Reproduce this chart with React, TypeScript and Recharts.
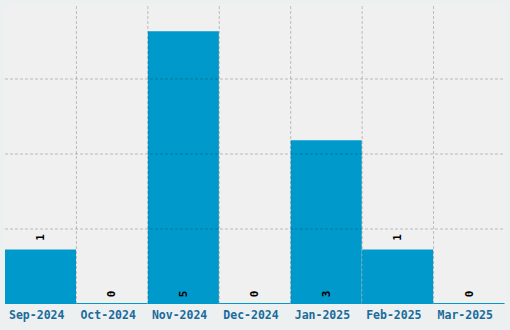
import React from 'react';
import { BarChart, Bar, XAxis, YAxis, CartesianGrid, LabelList, ReferenceLine } from 'recharts';

const months = ['Sep-2024', 'Oct-2024', 'Nov-2024', 'Dec-2024', 'Jan-2025', 'Feb-2025', 'Mar-2025'];
const counts = [1, 0, 5, 0, 3, 1, 0];
const yMax = 5.5;
const yTicks = [1.375, 2.75, 4.125];
const columnEdges = [1, 2, 3, 4, 5, 6];

// slot = column centre on a 0..7 number axis, used only to place the column-edge grid lines
const data = months.map((month, i) => ({ month, count: counts[i], slot: i + 0.5 }));

const FONT = '"DejaVu Sans Mono", monospace';
const GRID = { stroke: 'rgba(0,0,0,0.22)', strokeDasharray: '3 2' };

// small rotated value label: short bars get it above, others sit at the bottom
const ValueLabel = (props: any) => {
  const { x, y, width, height, value } = props;
  const cx = x + width / 2;
  const bottom = y + height;
  const cy = value > 0 && height < 60 ? y - 12 : bottom - 10;
  return (
    <text
      x={cx}
      y={cy}
      transform={`rotate(-90, ${cx}, ${cy})`}
      textAnchor="middle"
      dominantBaseline="central"
      fontFamily={FONT}
      fontWeight="bold"
      fontSize={11}
      fill="#000"
    >
      {value}
    </text>
  );
};

const App = () => {
  return (
    <div style={{ position: 'absolute', left: 0, top: 0, width: 510, height: 330, background: '#ecf0f1' }}>
      <BarChart
        width={510}
        height={330}
        data={data}
        margin={{ top: 4, right: 5, left: 5, bottom: 0 }}
        barCategoryGap={0}
      >
        <CartesianGrid fill="#f0f0f0" horizontal={false} vertical={false} />
        <XAxis
          dataKey="month"
          height={26}
          axisLine={false}
          tickLine={false}
          tickSize={6}
          tickMargin={1}
          interval={0}
          dx={-4}
          tick={{ fill: '#1a6b9c', fontFamily: FONT, fontWeight: 'bold', fontSize: 11.5 }}
        />
        <XAxis
          xAxisId="edges"
          dataKey="slot"
          type="number"
          domain={[0, months.length]}
          allowDataOverflow
          hide
        />
        <YAxis hide domain={[0, yMax]} ticks={yTicks} allowDataOverflow />
        <Bar dataKey="count" fill="#0099cc" minPointSize={1} isAnimationActive={false}>
          <LabelList dataKey="count" content={ValueLabel} />
        </Bar>
        {yTicks.map((t) => (
          <ReferenceLine key={`h${t}`} y={t} {...GRID} />
        ))}
        {columnEdges.map((e) => (
          <ReferenceLine key={`v${e}`} x={e} xAxisId="edges" {...GRID} />
        ))}
      </BarChart>
    </div>
  );
};

export default App;
